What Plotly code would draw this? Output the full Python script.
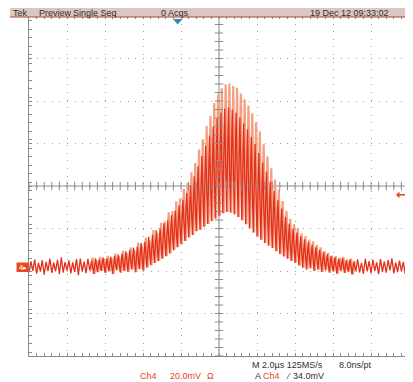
import plotly.graph_objects as go

# ---------------- data ----------------
# one oscillation "stripe" every 0.2 us across the 20 us screen (Ch4, mV above ground)
STRIPE_DT_US = 0.2
light_peak_mV = [
    3.1, 2.4, 3.8, 2.0, 3.5, 2.7, 4.2, 2.2, 3.0, 3.9,
    2.5, 3.4, 4.6, 2.8, 3.6, 3.1, 4.4, 3.2, 4.8, 3.9,
    5.2, 4.1, 6.3, 5.0, 7.6, 6.4, 9.1, 8.0, 11.5, 10.2,
    13.8, 12.6, 17.4, 16.1, 20.8, 21.5, 25.7, 26.3, 30.9, 32.2,
    36.8, 39.5, 44.6, 48.9, 55.3, 60.1, 66.4, 71.0, 77.2, 81.3,
    84.1, 86.0, 86.3, 85.2, 84.4, 81.6, 78.9, 76.0, 72.4, 68.1,
    63.7, 57.8, 52.1, 46.5, 41.2, 36.3, 31.0, 26.4, 22.7, 20.1,
    18.3, 15.9, 14.6, 12.8, 12.1, 10.4, 9.2, 7.5, 6.6, 5.4,
    5.1, 4.3, 4.7, 3.6, 3.9, 2.9, 3.7, 2.6, 3.4, 4.1,
    2.3, 3.3, 2.8, 4.0, 3.1, 2.5, 3.8, 2.9, 3.5, 2.7,
]
dark_peak_mV = [
    2.6, 3.5, 1.9, 3.2, 2.4, 3.9, 2.1, 3.4, 4.5, 2.3,
    3.1, 2.2, 3.7, 4.0, 2.5, 3.8, 3.0, 4.1, 3.6, 4.4,
    4.0, 4.9, 5.1, 5.8, 6.2, 7.4, 7.8, 9.2, 9.6, 11.3,
    11.9, 14.2, 15.0, 17.3, 18.1, 20.6, 22.0, 24.4, 26.5, 29.0,
    31.6, 34.8, 38.3, 42.7, 47.4, 52.2, 57.0, 61.8, 66.1, 70.0,
    72.7, 74.5, 75.1, 74.0, 72.6, 70.3, 67.5, 64.8, 61.2, 57.9,
    53.6, 49.2, 44.8, 40.1, 35.7, 31.4, 27.5, 23.6, 20.4, 18.0,
    16.2, 14.5, 13.0, 11.6, 10.5, 9.3, 8.1, 7.0, 6.0, 5.2,
    4.6, 3.8, 4.2, 3.1, 3.5, 2.4, 3.6, 2.0, 3.9, 2.8,
    3.4, 2.2, 3.7, 2.6, 3.3, 4.1, 2.1, 3.0, 2.4, 3.6,
]
trough_mV = [
    -2.5, -1.8, -3.1, -2.2, -3.6, -1.9, -2.8, -2.0, -3.4, -2.6,
    -1.7, -3.0, -2.3, -3.8, -2.1, -2.9, -1.6, -3.2, -2.4, -1.8,
    -2.7, -2.0, -3.3, -1.5, -2.6, -1.9, -2.2, -1.2, -2.4, -0.9,
    -1.6, -0.2, 0.8, 1.9, 2.8, 3.9, 5.1, 6.4, 7.9, 9.3,
    10.8, 12.2, 13.9, 15.1, 16.8, 17.6, 18.9, 20.2, 21.6, 22.8,
    24.1, 25.3, 25.9, 25.6, 24.8, 23.5, 22.0, 20.1, 18.2, 16.3,
    14.4, 12.8, 11.3, 10.0, 8.9, 7.4, 6.1, 5.0, 3.9, 2.8,
    1.9, 0.7, -0.3, -1.1, -0.6, -1.8, -1.2, -2.3, -1.5, -2.6,
    -2.0, -3.1, -1.7, -2.8, -2.2, -3.5, -1.9, -2.6, -3.2, -2.1,
    -2.9, -1.8, -3.4, -2.3, -2.7, -1.6, -3.0, -2.4, -2.0, -3.3,
]
LIGHT_START, LIGHT_END = 16, 86          # stripes where the light trace is visible

H_DIV_US = 2.0                            # M 2.0us
V_DIV_MV = 20.0                           # Ch4 20.0mV
N_HDIV, N_VDIV = 10, 8
GROUND_OFFSET_DIV = 1.906                 # ground marker below screen centre
TRIGGER_LEVEL_MV = 34.0

top_labels = ["Tek", "Preview", "Single Seq", "0 Acqs", "19 Dec 12 09:33:02"]
top_label_x = [20, 55, 95, 174.5, 349]

# ---------------- geometry (reference pixel coordinates) ----------------
W, H = 413, 382
BODY = 8                                  # page body margin that offsets the figure
L, R, T, B = 29, 409, 16, 356
RED = "#e8401c"
LIGHT = "#f4a080"
DARK = "#e3301c"
GRID = "#a0a0a0"
FONT = "Liberation Sans Narrow, Arial Narrow, Liberation Sans, Arial, sans-serif"


def px(xp):
    return (xp - L) / (R - L)


def py(yp):
    return (B - yp) / (B - T)


x_half = N_HDIV / 2 * H_DIV_US
y_mid = GROUND_OFFSET_DIV * V_DIV_MV
y_half = N_VDIV / 2 * V_DIV_MV

t_start = [-x_half + STRIPE_DT_US * i for i in range(len(trough_mV))]

lx, ly = [], []
for i in range(LIGHT_START, LIGHT_END):
    lx += [t_start[i] + 0.25 * STRIPE_DT_US, t_start[i] + 0.75 * STRIPE_DT_US]
    ly += [trough_mV[i], light_peak_mV[i]]

dx, dy = [], []
for i in range(len(trough_mV)):
    dx += [t_start[i], t_start[i] + 0.5 * STRIPE_DT_US]
    dy += [trough_mV[i], dark_peak_mV[i]]

fig = go.Figure()
fig.add_trace(go.Scatter(x=lx, y=ly, mode="lines", line=dict(color=LIGHT, width=2.2),
                         hoverinfo="skip", showlegend=False))
fig.add_trace(go.Scatter(x=dx, y=dy, mode="lines", line=dict(color=DARK, width=1.3),
                         hoverinfo="skip", showlegend=False))

# centre-line tick marks of the graticule
sub_h = H_DIV_US / 5
sub_v = V_DIV_MV / 5
hx = [-x_half + sub_h * k for k in range(N_HDIV * 5 + 1)]
vy = [y_mid - y_half + sub_v * k for k in range(N_VDIV * 5 + 1)]
fig.add_trace(go.Scatter(x=hx, y=[y_mid] * len(hx), mode="markers",
                         marker=dict(symbol="line-ns", size=6, line=dict(color="#8a8a8a", width=1)),
                         hoverinfo="skip", showlegend=False, cliponaxis=False))
fig.add_trace(go.Scatter(x=[0] * len(vy), y=vy, mode="markers",
                         marker=dict(symbol="line-ew", size=6, line=dict(color="#8a8a8a", width=1)),
                         hoverinfo="skip", showlegend=False, cliponaxis=False))

axis_common = dict(showticklabels=False, showline=True, linecolor="#8a8a8a", linewidth=1,
                   mirror="ticks", ticks="inside", ticklen=3, tickcolor="#8a8a8a",
                   showgrid=True, gridcolor=GRID, gridwidth=1, griddash="1px,6.6px",
                   zeroline=False, fixedrange=True)
fig.update_xaxes(range=[-x_half, x_half], tick0=-x_half, dtick=H_DIV_US,
                 minor=dict(ticks="inside", dtick=sub_h, ticklen=3, tickcolor="#8a8a8a", showgrid=False),
                 **axis_common)
fig.update_yaxes(range=[y_mid - y_half, y_mid + y_half], tick0=y_mid, dtick=V_DIV_MV,
                 minor=dict(ticks="inside", dtick=sub_v, ticklen=3, tickcolor="#8a8a8a", showgrid=False),
                 **axis_common)

shapes = [
    dict(type="line", xref="x", yref="paper", x0=0, x1=0, y0=0, y1=1, line=dict(color="#8a8a8a", width=1), layer="below"),
    dict(type="line", xref="paper", yref="y", x0=0, x1=1, y0=y_mid, y1=y_mid, line=dict(color="#8a8a8a", width=1), layer="below"),
    # top status bar
    dict(type="rect", xref="paper", yref="paper", x0=px(10), x1=px(409), y0=py(17), y1=py(7),
         fillcolor="#dcc6bf", line=dict(width=0), layer="above"),
    dict(type="line", xref="paper", yref="paper", x0=px(10), x1=px(409), y0=py(17), y1=py(17),
         line=dict(color="#a04a38", width=1.2)),
    # trigger position triangle
    dict(type="path", xref="paper", yref="paper",
         path=f"M {px(173)} {py(19)} L {px(182.5)} {py(19)} L {px(177.7)} {py(24.5)} Z",
         fillcolor="#2f8db5", line=dict(width=0)),
    # ground marker box
    dict(type="rect", xref="paper", yref="paper", x0=px(16.5), x1=px(28.5), y0=py(272), y1=py(262.5),
         fillcolor="#e8491f", line=dict(width=0)),
]

ann = []


def text(x, y, s, color="#303030", size=9, xanchor="center"):
    ann.append(dict(xref="paper", yref="paper", x=px(x), y=py(y), text=s, showarrow=False,
                    xanchor=xanchor, yanchor="middle", font=dict(family=FONT, size=size, color=color)))


for s, xp in zip(top_labels, top_label_x):
    text(xp, 12.5, s)

text(287.5, 365, "M 2.0µs 125MS/s")
text(355.5, 365, "8.0ns/pt")
text(148, 376, "Ch4", RED)
text(185, 376, "20.0mV", RED)
text(210, 376, "Ω", RED)
text(258, 376, "A")
text(271.5, 376, "Ch4", RED)
text(288, 376, "⁄")
text(308, 376, "34.0mV")
text(22.5, 267.3, "4▸", "#ffffff", size=7)
ann.append(dict(xref="paper", yref="y", x=1, y=TRIGGER_LEVEL_MV, text="<b>←</b>", showarrow=False,
                xanchor="right", yanchor="middle", font=dict(family="DejaVu Sans", size=13, color=RED)))

fig.update_layout(width=W - BODY, height=H - BODY,
                  margin=dict(l=L - BODY, r=W - R, t=T - BODY, b=H - B, pad=0),
                  paper_bgcolor="white", plot_bgcolor="white",
                  shapes=shapes, annotations=ann, showlegend=False)

fig.write_html("out.html")
